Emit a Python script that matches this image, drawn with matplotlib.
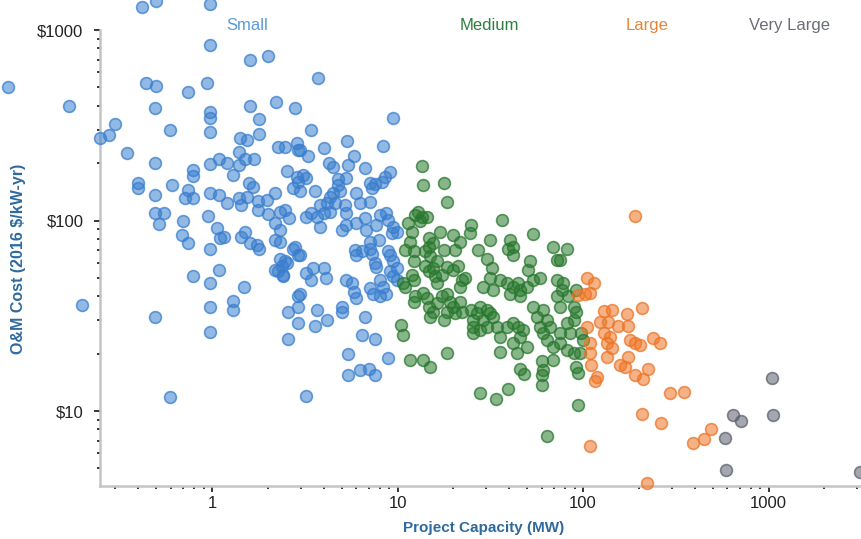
import matplotlib
matplotlib.use('Agg')
import matplotlib.pyplot as plt
from matplotlib.ticker import NullFormatter, LogLocator
from matplotlib.colors import to_rgb

plt.rcParams['font.family'] = ['Liberation Sans', 'DejaVu Sans']

# ---------------- data ----------------
categories = ['Small', 'Medium', 'Large', 'Very Large']

small_mw = [0.42, 0.50, 0.98, 0.98, 1.6, 2.0, 0.079, 0.44, 0.50, 0.74, 0.94, 0.17, 0.49, 0.98, 0.98,
            1.6, 2.2, 2.8, 0.30, 0.28, 0.25, 0.59, 0.98, 1.8, 1.8, 1.42, 1.54, 2.28, 2.47, 2.86,
            2.9, 0.35, 0.49, 0.98, 1.09, 1.2, 1.39, 1.39, 1.51, 1.68, 1.30, 0.79, 0.79, 2.53, 2.86,
            0.40, 0.40, 0.49, 0.61, 0.745, 0.715, 0.79, 0.98, 1.09, 1.59, 1.67, 2.19, 2.74, 2.9, 1.39,
            1.54, 1.78, 1.2, 1.43, 1.78, 1.97, 2.0, 2.19, 2.47, 2.61, 0.49, 0.55, 0.52, 0.70, 0.955,
            1.06, 0.69, 0.74, 1.10, 1.16, 1.43, 1.51, 1.6, 1.74, 1.8, 0.98, 2.19, 2.33, 2.33, 2.8,
            2.92, 2.33, 2.47, 2.38, 2.19, 2.28, 2.4, 0.79, 0.98, 1.09, 1.49, 0.20, 0.98, 1.3, 1.29,
            0.49, 0.98, 2.58, 2.9, 2.92, 2.92, 2.58, 0.59, 3.2, 3.74, 9.4, 3.4, 2.98, 3.3, 4.0,
            5.36, 8.3, 5.8, 4.27, 4.5, 5.4, 6.7, 9.1, 8.6, 3.1, 3.2, 4.8, 5.3, 7.6, 7.3,
            2.98, 3.6, 4.5, 4.9, 4.3, 6.0, 4.8, 4.15, 3.8, 4.0, 4.6, 4.3, 5.2, 5.3, 3.4,
            3.2, 3.7, 3.8, 5.0, 5.3, 6.3, 7.1, 8.2, 6.7, 6.0, 6.8, 7.7, 8.0, 8.7, 8.9,
            7.1, 7.9, 9.5, 9.9, 9.3, 2.74, 2.98, 2.53, 2.42, 5.9, 6.0, 6.4, 7.1, 7.3, 8.9,
            9.1, 7.6, 7.7, 9.5, 9.9, 9.1, 9.5, 3.2, 3.5, 4.0, 4.1, 3.4, 5.3, 5.7, 5.8,
            6.0, 7.1, 8.0, 8.4, 8.7, 9.9, 8.0, 7.4, 2.98, 3.7, 4.15, 3.6, 5.0, 5.0, 6.7,
            5.4, 6.4, 7.6, 8.9, 5.4, 6.3, 7.0, 7.6, 2.33, 7.1]
small_cost = [1320, 1420, 1370, 830, 700, 730, 500, 530, 510, 470, 530, 400, 390, 370, 345,
              400, 420, 390, 320, 280, 270, 300, 290, 340, 283, 272, 265, 244, 244, 256,
              234, 227, 201, 198, 210, 201, 230, 195, 210, 210, 173, 184, 172, 183, 170,
              158, 149, 136, 153, 145, 131, 131, 140, 136, 157, 150, 140, 148, 160, 131,
              133, 127, 123, 121, 113, 128, 108, 97, 113, 103, 110, 110, 96, 99, 105,
              91, 84, 76, 81, 82, 82, 87, 76, 74, 71, 71, 79, 89, 77, 73,
              66, 63, 61, 58, 55, 54, 52, 51, 47, 55, 45, 36, 35, 38, 34,
              31, 26, 33, 35, 40, 29, 24, 11.8, 12, 560, 345, 300, 234, 218, 239,
              261, 247, 218, 200, 190, 195, 189, 180, 170, 173, 168, 165, 168, 155, 148,
              142, 142, 139, 142, 133, 140, 153, 123, 121, 109, 123, 111, 121, 109, 109,
              104, 104, 93, 89, 95, 123, 125, 160, 103, 97, 89, 95, 107, 109, 101,
              77, 79, 93, 87, 86, 71, 66, 60, 51, 70, 66, 69, 71, 67, 69,
              66, 60, 57, 61, 56, 54, 51, 53, 56, 56, 50, 49, 49, 47, 42,
              39, 44, 49, 45, 41, 49, 40, 41, 41, 34, 30, 28, 35, 33, 31,
              20, 25, 24, 19, 15.5, 16.4, 16.7, 15.5, 111, 157]

medium_mw = [13.5, 13.8, 17.7, 18.4, 12.9, 13.5, 12.4, 14.4, 13.2, 11.4, 11.9, 11.7, 11.0, 12.2, 14.7,
             14.7, 15, 14.1, 15.6, 16.9, 20, 21.7, 20.4, 17.7, 16.3, 18.4, 21.3, 20, 22.2, 23.1,
             21.7, 12.2, 11.9, 12.2, 11, 10.7, 14.1, 15.6, 15.9, 14.7, 17.3, 16.3, 25, 24.6, 27.3,
             31.5, 36.5, 40.4, 42.1, 39.6, 42.1, 54, 69, 82, 72, 30.3, 32.2, 31.5, 29, 32.8,
             35.7, 38.8, 42.1, 44.8, 45.8, 49.7, 40.4, 45.8, 51.8, 50.7, 54, 58.6, 72, 78, 77,
             72, 83, 89, 75, 92, 12.4, 12.2, 13.8, 14.4, 14.7, 16.3, 15.6, 17.3, 18.4, 19.2,
             20, 21.7, 22.2, 20.4, 18.4, 17.7, 15, 25, 26.7, 25.6, 27.9, 30.3, 31.5, 29, 32.8,
             34.3, 30.3, 35.7, 38.8, 42.1, 44.8, 47.6, 45.8, 49.7, 42.1, 43.9, 35.7, 25.6, 25.6, 27.9,
             54, 56.3, 61, 63.7, 66.4, 58.6, 61, 63.7, 69, 75, 75, 82, 89, 85, 82,
             89, 92, 10.5, 10.7, 11.7, 13.8, 15, 18.4, 45.8, 61, 60, 75, 92, 98, 100,
             96, 94, 27.9, 34, 39.6, 48.3, 60, 60, 69, 63.7, 94]
medium_cost = [194, 153, 157, 125, 111, 104, 107, 104, 99, 97, 87, 77, 70, 69, 81,
               73, 65, 69, 76, 87, 84, 77, 70, 70, 61, 57, 58, 55, 49, 50,
               45, 61, 52, 49, 45, 47, 58, 56, 51, 54, 52, 47, 95, 86, 70,
               79, 101, 79, 73, 71, 66, 85, 73, 71, 62, 63, 56, 50, 45, 43,
               49, 47, 45, 47, 43, 45, 41, 40, 61, 55, 49, 50, 49, 47, 43,
               40, 40, 35, 35, 43, 40, 37.5, 41.5, 39, 35, 37, 33, 40, 41, 37.5,
               35, 37.5, 33, 32.6, 33, 30, 31, 34, 32.6, 30, 35, 34, 32.6, 30, 31,
               27.7, 27.7, 24.5, 27.7, 29, 27.7, 26.6, 24.5, 21.8, 22.7, 20.1, 20.5, 27.7, 25.6, 26.6,
               35, 31, 34, 30, 27.7, 27.7, 25.6, 23.6, 21.8, 25.6, 22.7, 29, 30, 25.6, 20.9,
               20.1, 17.1, 28.3, 25, 18.5, 18.5, 17.1, 20.1, 16.7, 16.4, 15.4, 62, 33, 25.6, 23.6,
               20.1, 15.8, 12.5, 11.5, 13, 15.6, 13.7, 18.2, 18.5, 7.4, 10.8]

large_mw = [190, 105, 115, 102, 109, 94, 129, 143, 124, 137, 155, 172, 175, 207, 105,
            109, 129, 140, 134, 143, 179, 190, 203, 239, 260, 109, 111, 134, 158, 168,
            175, 225, 190, 119, 211, 116, 294, 350, 207, 263, 488, 449, 390, 109, 222]
large_cost = [106, 50, 47, 41, 41.5, 40.6, 33.5, 34, 29.4, 29.4, 28, 32.3, 27.9, 34.6, 27.7,
              22.7, 25.6, 24.5, 22.7, 21.3, 23.6, 22.7, 22.2, 24.1, 22.7, 20.1, 17.4, 19.3, 17.4, 17.1,
              19.3, 16.7, 15.5, 15.1, 14.7, 14.4, 12.4, 12.6, 9.6, 8.7, 8.0, 7.1, 6.8, 6.55, 4.2]

vlarge_mw = [1050, 1060, 640, 710, 580, 590, 3110]
vlarge_cost = [14.9, 9.5, 9.5, 8.9, 7.2, 4.9, 4.8]

y_ticks = [10, 100, 1000]
y_tick_labels = [r'\$10', r'\$100', r'\$1000']
x_ticks = [1, 10, 100, 1000]
x_tick_labels = ['1', '10', '100', '1000']

# ---------------- styling ----------------
point_colors = ['#397ece', '#28782d', '#ee7424', '#5b5f6e']
label_colors = ['#5b9bd5', '#2e8040', '#e8843a', '#6b6e78']
label_xfrac = [0.193, 0.5105, 0.718, 0.9055]

fig = plt.figure(figsize=(8.62, 5.39), dpi=100)
ax = fig.add_axes([100 / 862, 53 / 539, 762 / 862, 456 / 539])
ax.set_xscale('log')
ax.set_yscale('log')

series = [(small_mw, small_cost), (medium_mw, medium_cost),
          (large_mw, large_cost), (vlarge_mw, vlarge_cost)]
for (xs, ys), c in zip(series, point_colors):
    rgb = to_rgb(c)
    ax.scatter(xs, ys, s=72, facecolor=(*rgb, 0.55), edgecolor=(*rgb, 0.75),
               linewidth=1.2, clip_on=False, zorder=3)

ax.set_xlim(0.249, 3190)
ax.set_ylim(4.04, 1000)

for side in ['top', 'right']:
    ax.spines[side].set_visible(False)
for side in ['left', 'bottom']:
    ax.spines[side].set_color('#c4c4c4')
    ax.spines[side].set_linewidth(1.8)

ax.set_yticks(y_ticks)
ax.set_yticklabels(y_tick_labels)
ax.set_xticks(x_ticks)
ax.set_xticklabels(x_tick_labels)
ax.xaxis.set_minor_locator(LogLocator(base=10, subs=range(2, 10)))
ax.yaxis.set_minor_locator(LogLocator(base=10, subs=range(2, 10)))
ax.xaxis.set_minor_formatter(NullFormatter())
ax.yaxis.set_minor_formatter(NullFormatter())

ax.tick_params(axis='both', which='major', length=4.5, width=1.1, color='black',
               labelsize=12, labelcolor='#222222')
ax.tick_params(axis='both', which='minor', length=2.2, width=1.1, color='black')
ax.tick_params(axis='y', which='major', pad=7.5)
ax.tick_params(axis='x', which='major', pad=2.5)

for name, col, xf in zip(categories, label_colors, label_xfrac):
    ax.text(xf, 1.0, name, transform=ax.transAxes, ha='center', va='baseline',
            color=col, fontsize=12)

fig.text(19 / 862, 1 - 259 / 539, r'O&M Cost (2016 \$/kW-yr)', rotation=90,
         ha='center', va='center', fontsize=11.5, fontweight='bold', color='#2f6a9f')
fig.text(484 / 862, 1 - 528 / 539, 'Project Capacity (MW)', ha='center', va='center',
         fontsize=11, fontweight='bold', color='#2f6a9f')

fig.savefig('out.png', dpi=100)
